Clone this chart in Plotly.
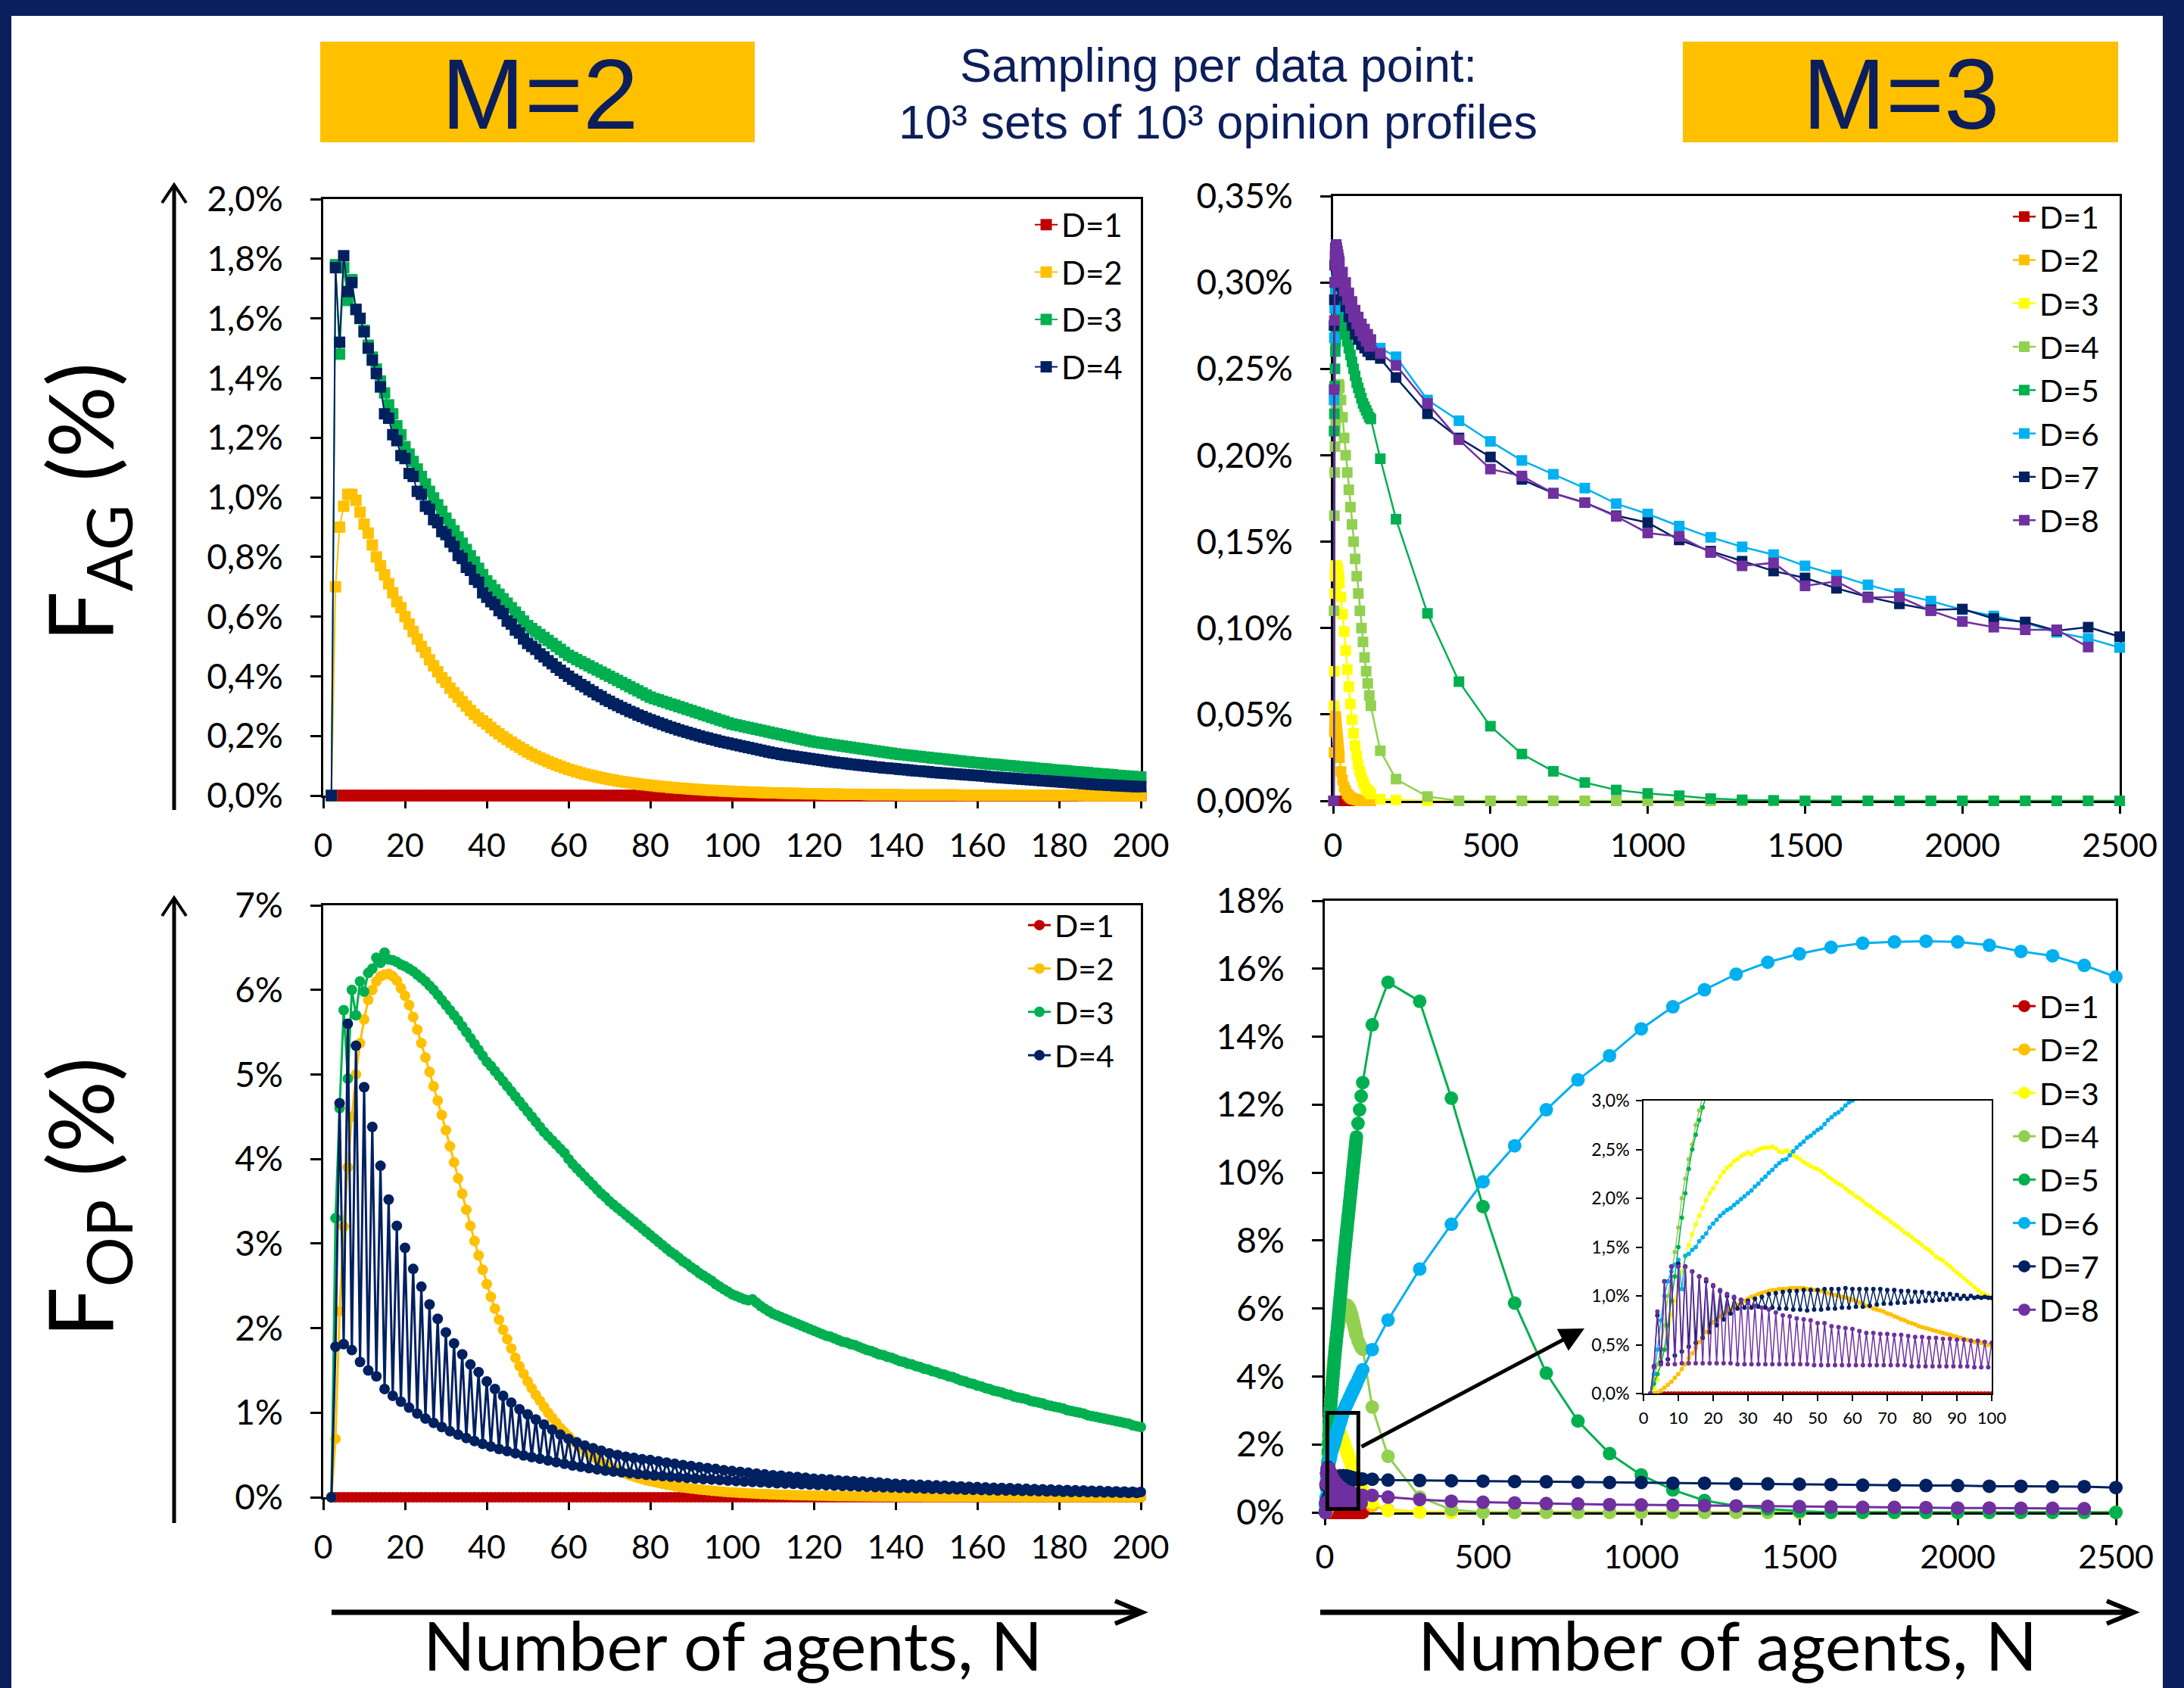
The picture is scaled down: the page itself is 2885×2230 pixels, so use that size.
import plotly.graph_objects as go

W, H = 2885, 2230
FONT = "Lato"
HEAD_FONT = "Liberation Sans"
HEAD_COL = "#0c1e5b"


def fx(p):
    return p / W


def fy(p):
    return 1 - p / H


# ---------------- x values (number of agents N) ----------------
N_M2 = list(range(2, 201))
N_AG3 = list(range(2, 21)) + list(range(25, 121, 5)) + [150, 200] + list(range(300, 2501, 100))
N_OP3 = list(range(2, 101)) + [105, 110, 115, 120] + [150, 200] + list(range(300, 2501, 100))

# ---------------- F_AG, M=2 (values in %) ----------------
FAG2_D1 = [0,0,0,0,0,0,0,0,0,0,0,0,0,0,0,0,0,0,0,0,
           0,0,0,0,0,0,0,0,0,0,0,0,0,0,0,0,0,0,0,0,
           0,0,0,0,0,0,0,0,0,0,0,0,0,0,0,0,0,0,0,0,
           0,0,0,0,0,0,0,0,0,0,0,0,0,0,0,0,0,0,0,0,
           0,0,0,0,0,0,0,0,0,0,0,0,0,0,0,0,0,0,0,0,
           0,0,0,0,0,0,0,0,0,0,0,0,0,0,0,0,0,0,0,0,
           0,0,0,0,0,0,0,0,0,0,0,0,0,0,0,0,0,0,0,0,
           0,0,0,0,0,0,0,0,0,0,0,0,0,0,0,0,0,0,0,0,
           0,0,0,0,0,0,0,0,0,0,0,0,0,0,0,0,0,0,0,0,
           0,0,0,0,0,0,0,0,0,0,0,0,0,0,0,0,0,0,0]
FAG2_D2 = [0, 0.70, 0.90, 0.97, 1.01, 1.01, 0.99, 0.95, 0.91,
           0.88, 0.84, 0.80, 0.77, 0.74, 0.71, 0.68, 0.65, 0.63, 0.60,
           0.575, 0.55, 0.525, 0.50, 0.48, 0.455, 0.435, 0.415, 0.395, 0.38,
           0.36, 0.345, 0.33, 0.315, 0.30, 0.285, 0.272, 0.26, 0.25, 0.24,
           0.228, 0.217, 0.207, 0.197, 0.188, 0.179, 0.170, 0.162, 0.154, 0.146,
           0.139, 0.132, 0.126, 0.120, 0.114, 0.108, 0.103, 0.098, 0.093, 0.088,
           0.084, 0.080, 0.076, 0.072, 0.069, 0.066, 0.063, 0.060, 0.057, 0.054,
           0.052, 0.049, 0.047, 0.045, 0.043, 0.041, 0.039, 0.037, 0.036, 0.034,
           0.033, 0.031, 0.030, 0.029, 0.027, 0.026, 0.025, 0.024, 0.023, 0.022,
           0.021, 0.020, 0.019, 0.018, 0.017, 0.017, 0.016, 0.015, 0.015, 0.014,
           0.013, 0.013, 0.012, 0.012, 0.011, 0.011, 0.010, 0.010, 0.009, 0.009,
           0.009, 0.008, 0.008, 0.008, 0.007, 0.007, 0.007, 0.006, 0.006, 0.006,
           0.006, 0.005, 0.005, 0.005, 0.005, 0.005, 0.004, 0.004, 0.004, 0.004,
           0.004, 0.004, 0.003, 0.003, 0.003, 0.003, 0.003, 0.003, 0.003, 0.003,
           0.002, 0.002, 0.002, 0.002, 0.002, 0.002, 0.002, 0.002, 0.002, 0.002,
           0.002, 0.002, 0.002, 0.002, 0.002, 0.001, 0.001, 0.001, 0.001, 0.001,
           0.001, 0.001, 0.001, 0.001, 0.001, 0.001, 0.001, 0.001, 0.001, 0.001,
           0.001, 0.001, 0.001, 0.001, 0.001, 0.001, 0.001, 0.001, 0.001, 0.001,
           0.001, 0.001, 0.001, 0.001, 0.001, 0, 0, 0, 0, 0,
           0, 0, 0, 0, 0, 0, 0, 0, 0, 0]
FAG2_D3 = [0, 1.78, 1.48, 1.77, 1.66, 1.73, 1.63, 1.60, 1.56,
           1.51, 1.47, 1.43, 1.39, 1.35, 1.31, 1.28, 1.24, 1.21, 1.17,
           1.145, 1.12, 1.095, 1.07, 1.045, 1.02, 0.998, 0.975, 0.953, 0.93,
           0.909, 0.888, 0.867, 0.846, 0.825, 0.804, 0.783, 0.762, 0.741, 0.72,
           0.705, 0.69, 0.675, 0.66, 0.645, 0.63, 0.615, 0.60, 0.585, 0.57,
           0.56, 0.55, 0.54, 0.53, 0.52, 0.51, 0.50, 0.49, 0.48, 0.47,
           0.463, 0.456, 0.449, 0.442, 0.435, 0.428, 0.421, 0.414, 0.407, 0.40,
           0.393, 0.386, 0.379, 0.372, 0.365, 0.358, 0.351, 0.344, 0.337, 0.33,
           0.325, 0.321, 0.316, 0.312, 0.307, 0.303, 0.298, 0.294, 0.289, 0.285,
           0.28, 0.276, 0.271, 0.267, 0.262, 0.258, 0.253, 0.249, 0.244, 0.24,
           0.237, 0.234, 0.231, 0.228, 0.225, 0.222, 0.219, 0.216, 0.213, 0.21,
           0.207, 0.204, 0.201, 0.198, 0.195, 0.192, 0.189, 0.186, 0.183, 0.18,
           0.178, 0.176, 0.174, 0.172, 0.17, 0.168, 0.166, 0.164, 0.162, 0.16,
           0.158, 0.156, 0.154, 0.152, 0.15, 0.148, 0.146, 0.144, 0.142, 0.14,
           0.138, 0.137, 0.135, 0.134, 0.132, 0.131, 0.129, 0.128, 0.126, 0.125,
           0.123, 0.122, 0.12, 0.119, 0.117, 0.116, 0.114, 0.113, 0.111, 0.11,
           0.109, 0.107, 0.106, 0.105, 0.104, 0.102, 0.101, 0.1, 0.099, 0.097,
           0.096, 0.095, 0.094, 0.092, 0.091, 0.09, 0.089, 0.087, 0.086, 0.085,
           0.084, 0.083, 0.081, 0.08, 0.079, 0.078, 0.077, 0.075, 0.074, 0.073,
           0.072, 0.071, 0.07, 0.068, 0.067, 0.066, 0.065, 0.064, 0.063, 0.062]
FAG2_D4 = [0, 1.77, 1.52, 1.81, 1.69, 1.72, 1.63, 1.60, 1.555,
           1.50, 1.46, 1.415, 1.37, 1.28, 1.265, 1.21, 1.19, 1.14, 1.13,
           1.08, 1.07, 1.02, 1.01, 0.97, 0.96, 0.925, 0.915, 0.885, 0.875,
           0.85, 0.835, 0.805, 0.795, 0.765, 0.755, 0.725, 0.715, 0.68, 0.665,
           0.65, 0.64, 0.62, 0.61, 0.585, 0.575, 0.555, 0.545, 0.525, 0.51,
           0.50, 0.49, 0.475, 0.465, 0.452, 0.442, 0.43, 0.42, 0.41, 0.40,
           0.39, 0.383, 0.372, 0.365, 0.355, 0.348, 0.338, 0.332, 0.322, 0.316,
           0.308, 0.302, 0.295, 0.289, 0.282, 0.277, 0.27, 0.265, 0.259, 0.254,
           0.249, 0.244, 0.239, 0.234, 0.229, 0.225, 0.22, 0.216, 0.212, 0.208,
           0.204, 0.2, 0.196, 0.193, 0.189, 0.186, 0.182, 0.179, 0.176, 0.173,
           0.17, 0.167, 0.164, 0.161, 0.158, 0.155, 0.152, 0.149, 0.146, 0.143,
           0.141, 0.138, 0.136, 0.134, 0.132, 0.13, 0.128, 0.126, 0.124, 0.122,
           0.12, 0.118, 0.116, 0.114, 0.112, 0.11, 0.109, 0.107, 0.105, 0.104,
           0.102, 0.101, 0.099, 0.098, 0.096, 0.095, 0.093, 0.092, 0.091, 0.09,
           0.088, 0.087, 0.086, 0.084, 0.083, 0.082, 0.081, 0.08, 0.078, 0.077,
           0.076, 0.075, 0.074, 0.073, 0.072, 0.071, 0.07, 0.069, 0.068, 0.067,
           0.066, 0.065, 0.063, 0.062, 0.061, 0.06, 0.059, 0.058, 0.057, 0.056,
           0.055, 0.054, 0.053, 0.052, 0.051, 0.05, 0.049, 0.048, 0.047, 0.046,
           0.045, 0.044, 0.043, 0.042, 0.041, 0.04, 0.039, 0.038, 0.037, 0.036,
           0.036, 0.035, 0.034, 0.033, 0.033, 0.032, 0.031, 0.031, 0.03, 0.03]

# ---------------- F_OP, M=2 (values in %) ----------------
FOP2_D1 = [0,0,0,0,0,0,0,0,0,0,0,0,0,0,0,0,0,0,0,0,
           0,0,0,0,0,0,0,0,0,0,0,0,0,0,0,0,0,0,0,0,
           0,0,0,0,0,0,0,0,0,0,0,0,0,0,0,0,0,0,0,0,
           0,0,0,0,0,0,0,0,0,0,0,0,0,0,0,0,0,0,0,0,
           0,0,0,0,0,0,0,0,0,0,0,0,0,0,0,0,0,0,0,0,
           0,0,0,0,0,0,0,0,0,0,0,0,0,0,0,0,0,0,0,0,
           0,0,0,0,0,0,0,0,0,0,0,0,0,0,0,0,0,0,0,0,
           0,0,0,0,0,0,0,0,0,0,0,0,0,0,0,0,0,0,0,0,
           0,0,0,0,0,0,0,0,0,0,0,0,0,0,0,0,0,0,0,0,
           0,0,0,0,0,0,0,0,0,0,0,0,0,0,0,0,0,0,0]
FOP2_D2 = [0, 0.69, 2.2, 3.2, 3.9, 4.5, 5.0, 5.37, 5.65,
           5.88, 6.0, 6.1, 6.16, 6.18, 6.19, 6.16, 6.11, 6.02, 5.93,
           5.82, 5.68, 5.53, 5.37, 5.2, 5.03, 4.86, 4.69, 4.52, 4.34,
           4.15, 3.96, 3.77, 3.59, 3.4, 3.21, 3.03, 2.86, 2.69, 2.52,
           2.37, 2.23, 2.1, 1.98, 1.87, 1.76, 1.65, 1.55, 1.46, 1.37,
           1.29, 1.21, 1.14, 1.07, 1.0, 0.94, 0.88, 0.82, 0.77, 0.72,
           0.67, 0.63, 0.59, 0.55, 0.51, 0.48, 0.45, 0.42, 0.39, 0.36,
           0.34, 0.32, 0.3, 0.28, 0.26, 0.245, 0.23, 0.215, 0.2, 0.19,
           0.18, 0.17, 0.16, 0.15, 0.14, 0.132, 0.124, 0.117, 0.11, 0.104,
           0.098, 0.092, 0.087, 0.082, 0.077, 0.073, 0.069, 0.065, 0.061, 0.058,
           0.055, 0.052, 0.049, 0.046, 0.044, 0.041, 0.039, 0.037, 0.035, 0.033,
           0.031, 0.03, 0.028, 0.027, 0.025, 0.024, 0.023, 0.022, 0.021, 0.02,
           0.019, 0.018, 0.017, 0.016, 0.015, 0.014, 0.014, 0.013, 0.012, 0.012,
           0.011, 0.011, 0.01, 0.01, 0.009, 0.009, 0.008, 0.008, 0.008, 0.007,
           0.007, 0.007, 0.006, 0.006, 0.006, 0.006, 0.005, 0.005, 0.005, 0.005,
           0.004, 0.004, 0.004, 0.004, 0.004, 0.004, 0.004, 0.004, 0.004, 0.004,
           0.003, 0.003, 0.003, 0.003, 0.003, 0.003, 0.003, 0.003, 0.003, 0.003,
           0.002, 0.002, 0.002, 0.002, 0.002, 0.002, 0.002, 0.002, 0.002, 0.002,
           0.002, 0.002, 0.002, 0.002, 0.002, 0.002, 0.002, 0.002, 0.002, 0.002,
           0.001, 0.001, 0.001, 0.001, 0.001, 0.001, 0.001, 0.001, 0.001, 0.001]
FOP2_D3 = [0, 3.3, 4.6, 5.76, 4.95, 6.0, 5.7, 6.1, 5.98,
           6.2, 6.25, 6.38, 6.32, 6.44, 6.36, 6.35, 6.33, 6.3, 6.28,
           6.25, 6.22, 6.18, 6.14, 6.1, 6.05, 6.0, 5.94, 5.88, 5.82,
           5.76, 5.7, 5.64, 5.57, 5.5, 5.43, 5.36, 5.29, 5.22, 5.15,
           5.1, 5.04, 4.98, 4.92, 4.86, 4.8, 4.74, 4.68, 4.62, 4.56,
           4.5, 4.44, 4.38, 4.32, 4.27, 4.22, 4.17, 4.12, 4.07, 4.0,
           3.94, 3.89, 3.84, 3.79, 3.74, 3.69, 3.64, 3.59, 3.55, 3.5,
           3.46, 3.42, 3.38, 3.34, 3.3, 3.26, 3.22, 3.18, 3.14, 3.1,
           3.06, 3.02, 2.98, 2.94, 2.9, 2.87, 2.83, 2.79, 2.76, 2.72,
           2.69, 2.65, 2.62, 2.59, 2.56, 2.52, 2.49, 2.46, 2.43, 2.4,
           2.38, 2.36, 2.34, 2.33, 2.34, 2.3, 2.26, 2.23, 2.2, 2.17,
           2.15, 2.13, 2.11, 2.09, 2.07, 2.05, 2.03, 2.01, 1.99, 1.97,
           1.95, 1.93, 1.91, 1.9, 1.88, 1.86, 1.84, 1.83, 1.81, 1.8,
           1.78, 1.76, 1.74, 1.73, 1.71, 1.69, 1.68, 1.66, 1.65, 1.63,
           1.61, 1.6, 1.58, 1.57, 1.55, 1.54, 1.52, 1.51, 1.49, 1.48,
           1.46, 1.45, 1.43, 1.42, 1.4, 1.38, 1.37, 1.35, 1.34, 1.32,
           1.31, 1.29, 1.28, 1.26, 1.25, 1.24, 1.22, 1.21, 1.19, 1.18,
           1.17, 1.16, 1.14, 1.13, 1.12, 1.11, 1.09, 1.08, 1.07, 1.06,
           1.05, 1.03, 1.02, 1.01, 1.0, 0.99, 0.97, 0.96, 0.95, 0.94,
           0.93, 0.92, 0.91, 0.9, 0.89, 0.88, 0.87, 0.85, 0.84, 0.83]
FOP2_D4 = [0, 1.78, 4.66, 1.81, 5.6, 1.74, 5.34, 1.6, 4.85,
           1.5, 4.38, 1.43, 3.92, 1.28, 3.52, 1.2, 3.21, 1.13, 2.95,
           1.06, 2.7, 0.99, 2.49, 0.93, 2.28, 0.88, 2.11, 0.83, 1.95,
           0.78, 1.82, 0.74, 1.69, 0.7, 1.57, 0.665, 1.48, 0.63, 1.37,
           0.6, 1.28, 0.57, 1.2, 0.545, 1.12, 0.52, 1.04, 0.495, 0.98,
           0.475, 0.92, 0.455, 0.86, 0.435, 0.8, 0.415, 0.74, 0.395, 0.69,
           0.375, 0.65, 0.36, 0.61, 0.345, 0.58, 0.33, 0.55, 0.315, 0.52,
           0.305, 0.5, 0.295, 0.48, 0.285, 0.465, 0.275, 0.45, 0.265, 0.44,
           0.258, 0.425, 0.25, 0.41, 0.243, 0.395, 0.236, 0.38, 0.229, 0.37,
           0.222, 0.355, 0.215, 0.345, 0.209, 0.335, 0.203, 0.32, 0.197, 0.31,
           0.191, 0.3, 0.186, 0.29, 0.181, 0.28, 0.176, 0.27, 0.171, 0.26,
           0.166, 0.255, 0.162, 0.245, 0.158, 0.24, 0.154, 0.23, 0.15, 0.22,
           0.146, 0.215, 0.142, 0.21, 0.138, 0.2, 0.134, 0.195, 0.131, 0.19,
           0.127, 0.185, 0.124, 0.18, 0.121, 0.175, 0.118, 0.165, 0.115, 0.16,
           0.112, 0.155, 0.109, 0.15, 0.106, 0.147, 0.103, 0.143, 0.1, 0.14,
           0.098, 0.136, 0.095, 0.132, 0.093, 0.128, 0.09, 0.124, 0.088, 0.12,
           0.086, 0.117, 0.083, 0.113, 0.081, 0.11, 0.079, 0.107, 0.077, 0.104,
           0.075, 0.1, 0.073, 0.097, 0.071, 0.094, 0.069, 0.091, 0.067, 0.088,
           0.065, 0.085, 0.063, 0.082, 0.062, 0.08, 0.06, 0.077, 0.058, 0.075,
           0.057, 0.072, 0.055, 0.07, 0.054, 0.067, 0.052, 0.065, 0.051, 0.062]

# ---------------- F_AG, M=3 (values in %), x = N_AG3 ----------------
FAG3_D1 = [0,0,0,0,0,0,0,0,0,0,0,0,0,0,0,0,0,0,0,
           0,0,0,0,0,0,0,0,0,0,0,0,0,0,0,0,0,0,0,0]
FAG3_D2 = [0, 0.028, 0.04, 0.046, 0.048, 0.049, 0.048, 0.047, 0.045, 0.043,
           0.041, 0.039, 0.037, 0.035, 0.033, 0.031, 0.029, 0.027, 0.025,
           0.017, 0.012, 0.008, 0.006, 0.004, 0.003, 0.002, 0.0015, 0.001, 0.001,
           0.0005, 0.0005, 0, 0, 0, 0, 0, 0, 0, 0]
FAG3_D3 = [0, 0.055, 0.075, 0.12, 0.13, 0.134, 0.136, 0.136, 0.136, 0.136,
           0.135, 0.135, 0.134, 0.133, 0.132, 0.131, 0.13, 0.128, 0.126,
           0.118, 0.108, 0.098, 0.087, 0.076, 0.066, 0.056, 0.047, 0.039, 0.032,
           0.026, 0.021, 0.017, 0.014, 0.011, 0.009, 0.007, 0.006, 0.005, 0.004,
           0.001, 0.0005, 0, 0, 0, 0, 0, 0, 0, 0, 0, 0,
           0, 0, 0, 0, 0, 0, 0, 0, 0, 0, 0, 0, 0]
FAG3_D4 = [0, 0.11, 0.165, 0.19, 0.205, 0.215, 0.22, 0.225, 0.23, 0.232,
           0.235, 0.237, 0.238, 0.24, 0.24, 0.241, 0.241, 0.24, 0.239,
           0.232, 0.222, 0.21, 0.2, 0.19, 0.18, 0.17, 0.16, 0.15, 0.14,
           0.13, 0.12, 0.11, 0.1, 0.092, 0.083, 0.075, 0.068, 0.061, 0.055,
           0.029, 0.0126, 0.0025, 0, 0, 0, 0, 0, 0, 0, 0, 0,
           0, 0, 0, 0, 0, 0, 0, 0, 0, 0, 0, 0, 0]
FAG3_D5 = [0, 0.214, 0.224, 0.24, 0.25, 0.26, 0.265, 0.27, 0.275, 0.278,
           0.28, 0.282, 0.284, 0.285, 0.285, 0.285, 0.284, 0.284, 0.283,
           0.28, 0.277, 0.274, 0.27, 0.266, 0.262, 0.258, 0.254, 0.25, 0.246,
           0.242, 0.239, 0.236, 0.233, 0.23, 0.228, 0.226, 0.224, 0.222, 0.221,
           0.198, 0.163, 0.1085, 0.069, 0.0432, 0.0271, 0.0171, 0.0106, 0.0063, 0.0043,
           0.003, 0.0013, 0.0006, 0.0003, 0, 0, 0, 0, 0, 0, 0, 0, 0, 0, 0]
FAG3_D6 = [0, 0.232, 0.268, 0.285, 0.29, 0.295, 0.298, 0.3, 0.302, 0.303,
           0.303, 0.303, 0.302, 0.301, 0.3, 0.299, 0.298, 0.297, 0.296,
           0.293, 0.29, 0.288, 0.286, 0.284, 0.282, 0.28, 0.278, 0.276, 0.275,
           0.273, 0.272, 0.27, 0.269, 0.268, 0.267, 0.266, 0.265, 0.264, 0.263,
           0.262, 0.257, 0.232, 0.22, 0.208, 0.197, 0.189, 0.181, 0.172, 0.166,
           0.159, 0.1525, 0.147, 0.1425, 0.136, 0.1307, 0.125, 0.12, 0.1156, 0.1106,
           0.107, 0.103, 0.0975, 0.094, 0.0887]
FAG3_D7 = [0, 0.275, 0.29, 0.31, 0.3, 0.32, 0.31, 0.318, 0.31, 0.315,
           0.307, 0.312, 0.305, 0.31, 0.303, 0.307, 0.3, 0.305, 0.298,
           0.3, 0.292, 0.293, 0.286, 0.287, 0.28, 0.281, 0.275, 0.276, 0.27,
           0.272, 0.267, 0.268, 0.264, 0.265, 0.262, 0.263, 0.26, 0.261, 0.258,
           0.256, 0.245, 0.224, 0.21, 0.199, 0.186, 0.178, 0.1726, 0.165, 0.161,
           0.151, 0.1445, 0.1387, 0.133, 0.129, 0.123, 0.118, 0.114, 0.1105, 0.111,
           0.1055, 0.1035, 0.0985, 0.1005, 0.095]
FAG3_D8 = [0, 0.238, 0.278, 0.3, 0.315, 0.31, 0.32, 0.31, 0.322, 0.31,
           0.32, 0.308, 0.318, 0.306, 0.316, 0.305, 0.314, 0.303, 0.312,
           0.3, 0.306, 0.295, 0.3, 0.29, 0.294, 0.285, 0.289, 0.28, 0.284,
           0.276, 0.28, 0.272, 0.276, 0.269, 0.273, 0.266, 0.27, 0.263, 0.267,
           0.259, 0.252, 0.23, 0.209, 0.192, 0.188, 0.178, 0.1726, 0.1646, 0.155,
           0.153, 0.1437, 0.136, 0.1377, 0.1244, 0.127, 0.1176, 0.118, 0.11, 0.1038,
           0.1005, 0.099, 0.099, 0.089]

# ---------------- F_OP, M=3 (values in %), x = N_OP3 ----------------
FOP3_D1 = [0,0,0,0,0,0,0,0,0,0,0,0,0,0,0,0,0,0,0,0,
           0,0,0,0,0,0,0,0,0,0,0,0,0,0,0,0,0,0,0,0,
           0,0,0,0,0,0,0,0,0,0,0,0,0,0,0,0,0,0,0,0,
           0,0,0,0,0,0,0,0,0,0,0,0,0,0,0,0,0,0,0,0,
           0,0,0,0,0,0,0,0,0,0,0,0,0,0,0,0,0,0,0,0,
           0,0,0]
FOP3_D2 = [0, 0, 0.01, 0.03, 0.06, 0.09, 0.12, 0.16, 0.2,
           0.25, 0.3, 0.36, 0.41, 0.47, 0.53, 0.58, 0.63, 0.68, 0.73,
           0.76, 0.79, 0.82, 0.84, 0.86, 0.89, 0.91, 0.93, 0.95, 0.97,
           0.99, 1.0, 1.02, 1.03, 1.04, 1.05, 1.06, 1.06, 1.07, 1.07,
           1.07, 1.08, 1.08, 1.08, 1.08, 1.08, 1.07, 1.07, 1.06, 1.06,
           1.05, 1.04, 1.03, 1.02, 1.01, 1.0, 0.99, 0.98, 0.97, 0.96,
           0.95, 0.93, 0.92, 0.9, 0.89, 0.87, 0.86, 0.85, 0.84, 0.82,
           0.81, 0.79, 0.78, 0.76, 0.75, 0.73, 0.72, 0.71, 0.69, 0.68,
           0.67, 0.66, 0.65, 0.64, 0.63, 0.62, 0.61, 0.6, 0.59, 0.58,
           0.57, 0.56, 0.55, 0.54, 0.53, 0.52, 0.52, 0.51, 0.5, 0.49,
           0.45, 0.41, 0.37, 0.34,
           0.2, 0.07, 0.01, 0, 0, 0, 0, 0, 0, 0, 0, 0,
           0, 0, 0, 0, 0, 0, 0, 0, 0, 0, 0, 0, 0]
FOP3_D3 = [0, 0.05, 0.15, 0.3, 0.45, 0.6, 0.8, 0.95, 1.1,
           1.25, 1.4, 1.52, 1.63, 1.73, 1.82, 1.9, 1.98, 2.05, 2.1,
           2.16, 2.22, 2.27, 2.31, 2.34, 2.38, 2.4, 2.43, 2.45, 2.47,
           2.45, 2.48, 2.5, 2.51, 2.52, 2.52, 2.53, 2.51, 2.48, 2.47,
           2.49, 2.47, 2.44, 2.42, 2.4, 2.37, 2.35, 2.33, 2.31, 2.3,
           2.28, 2.25, 2.22, 2.2, 2.17, 2.15, 2.13, 2.1, 2.07, 2.05,
           2.02, 2.0, 1.97, 1.94, 1.92, 1.89, 1.86, 1.84, 1.81, 1.79,
           1.76, 1.73, 1.71, 1.68, 1.65, 1.63, 1.6, 1.57, 1.55, 1.52,
           1.49, 1.47, 1.44, 1.4, 1.38, 1.36, 1.33, 1.3, 1.27, 1.24,
           1.21, 1.18, 1.15, 1.12, 1.09, 1.06, 1.03, 1.02, 1.0, 0.97,
           0.88, 0.8, 0.72, 0.65,
           0.3, 0.05, 0.01, 0, 0, 0, 0, 0, 0, 0, 0, 0,
           0, 0, 0, 0, 0, 0, 0, 0, 0, 0, 0, 0, 0]
FOP3_D4 = [0, 0.15, 0.3, 0.45, 0.7, 1.0, 1.2, 1.45, 1.7,
           2.0, 2.2, 2.4, 2.55, 2.75, 2.9, 3.05, 3.18, 3.31, 3.44,
           3.57, 3.7, 3.83, 3.96, 4.08, 4.19, 4.3, 4.4, 4.5, 4.6,
           4.68, 4.76, 4.84, 4.92, 5.0, 5.07, 5.14, 5.21, 5.28, 5.35,
           5.4, 5.45, 5.5, 5.55, 5.6, 5.64, 5.68, 5.72, 5.76, 5.8,
           5.83, 5.86, 5.89, 5.92, 5.95, 5.97, 5.99, 6.01, 6.03, 6.05,
           6.06, 6.07, 6.08, 6.09, 6.1, 6.1, 6.1, 6.1, 6.1, 6.1,
           6.09, 6.08, 6.07, 6.06, 6.05, 6.03, 6.01, 5.99, 5.97, 5.95,
           5.92, 5.89, 5.86, 5.83, 5.8, 5.76, 5.72, 5.68, 5.64, 5.6,
           5.56, 5.52, 5.48, 5.44, 5.4, 5.36, 5.32, 5.28, 5.24, 5.2,
           5.05, 4.95, 4.85, 4.8,
           3.1, 1.65, 0.45, 0.08, 0, 0, 0, 0, 0, 0, 0, 0,
           0, 0, 0, 0, 0, 0, 0, 0, 0, 0, 0, 0, 0]
FOP3_D5 = [0, 0.1, 0.2, 0.3, 0.45, 0.7, 0.95, 1.2, 1.5,
           1.8, 2.05, 2.3, 2.5, 2.65, 2.8, 2.93, 3.05, 3.17, 3.29,
           3.41, 3.53, 3.65, 3.77, 3.89, 4.0, 4.11, 4.22, 4.33, 4.44,
           4.55, 4.65, 4.75, 4.85, 4.95, 5.05, 5.15, 5.25, 5.35, 5.45,
           5.55, 5.65, 5.75, 5.85, 5.95, 6.05, 6.15, 6.25, 6.35, 6.45,
           6.55, 6.65, 6.75, 6.85, 6.95, 7.05, 7.15, 7.25, 7.35, 7.45,
           7.54, 7.63, 7.72, 7.81, 7.9, 7.99, 8.08, 8.17, 8.26, 8.35,
           8.44, 8.53, 8.62, 8.71, 8.8, 8.89, 8.98, 9.07, 9.16, 9.25,
           9.34, 9.43, 9.52, 9.61, 9.7, 9.79, 9.88, 9.97, 10.06, 10.15,
           10.24, 10.33, 10.42, 10.51, 10.6, 10.69, 10.78, 10.87, 10.96, 11.05,
           11.45, 11.85, 12.25, 12.65,
           14.35, 15.6, 15.04, 12.19, 9.0, 6.16, 4.1, 2.69, 1.73, 1.1, 0.66, 0.35,
           0.19, 0.1, 0.04, 0, 0, 0, 0, 0, 0, 0, 0, 0, 0]
FOP3_D6 = [0, 0.2, 0.45, 0.75, 1.0, 1.15, 1.25, 1.32, 1.37,
           1.07, 1.41, 1.43, 1.47, 1.5, 1.56, 1.6, 1.64, 1.7, 1.74,
           1.78, 1.82, 1.85, 1.88, 1.9, 1.93, 1.96, 1.99, 2.02, 2.05,
           2.08, 2.12, 2.15, 2.19, 2.22, 2.26, 2.29, 2.33, 2.36, 2.39,
           2.4, 2.44, 2.48, 2.52, 2.55, 2.58, 2.62, 2.64, 2.67, 2.7,
           2.72, 2.76, 2.8, 2.83, 2.86, 2.88, 2.91, 2.95, 2.98, 3.0,
           3.02, 3.04, 3.06, 3.08, 3.1, 3.12, 3.14, 3.16, 3.18, 3.2,
           3.22, 3.24, 3.26, 3.28, 3.3, 3.32, 3.34, 3.36, 3.38, 3.4,
           3.42, 3.44, 3.46, 3.48, 3.5, 3.52, 3.54, 3.56, 3.58, 3.6,
           3.62, 3.64, 3.66, 3.68, 3.7, 3.72, 3.74, 3.76, 3.78, 3.8,
           3.9, 4.0, 4.1, 4.2,
           4.79, 5.66, 7.16, 8.48, 9.73, 10.79, 11.85, 12.73, 13.44, 14.23, 14.88, 15.38,
           15.84, 16.19, 16.44, 16.63, 16.75, 16.79, 16.81, 16.79, 16.69, 16.51, 16.38, 16.1, 15.76]
FOP3_D7 = [0, 0.28, 0.8, 0.32, 1.15, 0.35, 1.3, 0.39, 1.33,
           0.43, 1.3, 0.48, 1.25, 0.52, 1.2, 0.57, 1.15, 0.63, 1.1,
           0.7, 1.05, 0.76, 1.0, 0.82, 0.98, 0.87, 0.96, 0.88, 0.95,
           0.88, 0.97, 0.89, 0.99, 0.88, 1.02, 0.88, 1.03, 0.87, 1.04,
           0.87, 1.05, 0.86, 1.05, 0.86, 1.06, 0.85, 1.06, 0.86, 1.06,
           0.86, 1.07, 0.87, 1.07, 0.87, 1.07, 0.88, 1.08, 0.88, 1.07,
           0.89, 1.07, 0.89, 1.07, 0.9, 1.07, 0.91, 1.07, 0.92, 1.06,
           0.92, 1.06, 0.93, 1.05, 0.93, 1.05, 0.94, 1.04, 0.94, 1.04,
           0.95, 1.03, 0.95, 1.03, 0.96, 1.02, 0.96, 1.02, 0.97, 1.01,
           0.97, 1.0, 0.97, 1.0, 0.98, 0.99, 0.98, 0.99, 0.98, 0.98,
           0.98, 0.98, 0.98, 0.98,
           0.975, 0.95, 0.94, 0.93, 0.92, 0.91, 0.9, 0.89, 0.88, 0.88, 0.86, 0.86,
           0.84, 0.84, 0.83, 0.82, 0.8, 0.8, 0.79, 0.79, 0.77, 0.77, 0.76, 0.76, 0.73]
FOP3_D8 = [0, 0.27, 0.84, 0.3, 1.15, 0.3, 1.3, 0.3, 1.3,
           0.31, 1.3, 0.31, 1.25, 0.31, 1.2, 0.31, 1.17, 0.31, 1.11,
           0.31, 1.06, 0.31, 1.02, 0.31, 0.99, 0.3, 0.96, 0.3, 0.93,
           0.3, 0.9, 0.3, 0.88, 0.3, 0.86, 0.3, 0.83, 0.3, 0.8,
           0.3, 0.79, 0.3, 0.77, 0.3, 0.76, 0.3, 0.75, 0.29, 0.72,
           0.29, 0.72, 0.29, 0.69, 0.29, 0.68, 0.29, 0.67, 0.29, 0.66,
           0.29, 0.64, 0.29, 0.62, 0.29, 0.62, 0.29, 0.61, 0.29, 0.61,
           0.29, 0.6, 0.29, 0.6, 0.29, 0.59, 0.28, 0.58, 0.28, 0.58,
           0.28, 0.57, 0.28, 0.57, 0.28, 0.56, 0.28, 0.56, 0.28, 0.55,
           0.28, 0.55, 0.28, 0.54, 0.27, 0.54, 0.27, 0.53, 0.27, 0.52,
           0.28, 0.5, 0.28, 0.5,
           0.5, 0.45, 0.38, 0.33, 0.3, 0.28, 0.26, 0.25, 0.23, 0.22, 0.21, 0.2,
           0.19, 0.18, 0.17, 0.16, 0.15, 0.15, 0.14, 0.13, 0.13, 0.12, 0.12, 0.11]

# ---------------- colours ----------------
RED, ORANGE, GREEN, NAVY = "#C00000", "#FFC000", "#00B050", "#002060"
YELLOW, LGREEN, CYAN, PURPLE = "#FFFF00", "#92D050", "#00B0F0", "#7030A0"

fig = go.Figure()


def add(xs, ys, name, color, symbol, size, lw, xa, ya, legend=None, clip=False):
    fig.add_trace(go.Scatter(
        x=xs[:len(ys)], y=ys, name=name, mode="lines+markers",
        line=dict(color=color, width=lw),
        marker=dict(symbol=symbol, size=size, color=color, line=dict(width=0)),
        xaxis=xa, yaxis=ya, cliponaxis=clip,
        showlegend=legend is not None,
        legend=legend if legend else "legend",
        legendgroup=(legend or "inset") + name,
        hoverinfo="skip"))


m2_ag = [("D=1", FAG2_D1, RED), ("D=2", FAG2_D2, ORANGE), ("D=3", FAG2_D3, GREEN), ("D=4", FAG2_D4, NAVY)]
m2_op = [("D=1", FOP2_D1, RED), ("D=2", FOP2_D2, ORANGE), ("D=3", FOP2_D3, GREEN), ("D=4", FOP2_D4, NAVY)]
m3_ag = [("D=1", FAG3_D1, RED), ("D=2", FAG3_D2, ORANGE), ("D=3", FAG3_D3, YELLOW), ("D=4", FAG3_D4, LGREEN),
         ("D=5", FAG3_D5, GREEN), ("D=6", FAG3_D6, CYAN), ("D=7", FAG3_D7, NAVY), ("D=8", FAG3_D8, PURPLE)]
m3_op = [("D=1", FOP3_D1, RED), ("D=2", FOP3_D2, ORANGE), ("D=3", FOP3_D3, YELLOW), ("D=4", FOP3_D4, LGREEN),
         ("D=5", FOP3_D5, GREEN), ("D=6", FOP3_D6, CYAN), ("D=7", FOP3_D7, NAVY), ("D=8", FOP3_D8, PURPLE)]

for nm, v, c in m2_ag:
    add(N_M2, v, nm, c, "square", 15, 2, "x", "y", "legend")
for nm, v, c in m3_ag:
    add(N_AG3, v, nm, c, "square", 14, 2.5, "x2", "y2", "legend2")
for nm, v, c in m2_op:
    add(N_M2, v, nm, c, "circle", 14, 3, "x3", "y3", "legend3")
for nm, v, c in m3_op:
    add(N_OP3, v, nm, c, "circle", 18, 3, "x4", "y4", "legend4")
for nm, v, c in m3_op:
    add(N_OP3, v, nm, c, "circle", 6, 1.5, "x5", "y5", None, clip=True)


def axis(dom, rng, dtick, fmt, suffix, anchor, size=43, tl=14, lw=3, standoff=0):
    return dict(domain=dom, range=rng, dtick=dtick, tick0=0, tickformat=fmt, ticksuffix=suffix,
                showline=True, linecolor="black", linewidth=lw, mirror=True,
                ticks="outside", ticklen=tl, tickwidth=lw, tickcolor="black",
                showgrid=False, zeroline=False, anchor=anchor, layer="below traces",
                automargin=False,
                tickfont=dict(family=FONT, size=size, color="black"),
                ticklabelstandoff=standoff, fixedrange=True)


def leg(x, y, gap, size):
    return dict(x=fx(x), y=fy(y), xanchor="left", yanchor="top", bgcolor="rgba(0,0,0,0)",
                borderwidth=0, font=dict(family=FONT, size=size, color="black"),
                tracegroupgap=gap, itemclick=False, itemdoubleclick=False)


ann = []


def text(x, y, s, size, color="black", family=FONT, angle=0):
    ann.append(dict(x=fx(x), y=fy(y), xref="paper", yref="paper", text=s, showarrow=False,
                    font=dict(family=family, size=size, color=color), textangle=angle,
                    xanchor="center", yanchor="middle"))


text(713, 124, "M=2", 132, HEAD_COL, HEAD_FONT)
text(2511, 124, "M=3", 132, HEAD_COL, HEAD_FONT)
text(1609, 86, "Sampling per data point:", 63, HEAD_COL, HEAD_FONT)
text(1609, 161, "10³ sets of 10³ opinion profiles", 63, HEAD_COL, HEAD_FONT)
text(113, 663, "F<sub>AG</sub> (%)", 118, angle=-90)
text(113, 1582, "F<sub>OP</sub> (%)", 118, angle=-90)
text(968, 2172, "Number of agents, N", 90)
text(2282, 2172, "Number of agents, N", 90)

# arrow from zoom box to inset
ann.append(dict(x=fx(2093), y=fy(1755), xref="paper", yref="paper", text="", showarrow=True,
                ax=-296, ay=157, axref="pixel", ayref="pixel", arrowhead=2, arrowsize=1.3,
                arrowwidth=5, arrowcolor="black"))

shapes = []
shapes.append(dict(type="rect", xref="paper", yref="paper", x0=fx(15), x1=fx(2857), y0=fy(2245), y1=fy(21),
                   fillcolor="white", line=dict(width=0), layer="below"))
for x0, x1 in [(423, 997), (2223, 2798)]:
    shapes.append(dict(type="rect", xref="paper", yref="paper", x0=fx(x0), x1=fx(x1), y0=fy(188), y1=fy(55),
                       fillcolor="#FFC000", line=dict(width=0), layer="below"))


def pline(x0, y0, x1, y1, w):
    shapes.append(dict(type="line", xref="paper", yref="paper", x0=fx(x0), y0=fy(y0), x1=fx(x1), y1=fy(y1),
                       line=dict(color="black", width=w)))


def ppath(pts, w):
    d = "M " + " L ".join(f"{fx(a):.5f},{fy(b):.5f}" for a, b in pts)
    shapes.append(dict(type="path", xref="paper", yref="paper", path=d, line=dict(color="black", width=w)))


pline(230, 1070, 230, 246, 5)
ppath([(214, 268), (230, 244), (246, 268)], 4)
pline(230, 2012, 230, 1188, 5)
ppath([(214, 1210), (230, 1186), (246, 1210)], 4)
pline(438, 2130, 1505, 2130, 7)
ppath([(1473, 2115), (1509, 2130), (1473, 2145)], 6)
pline(1744, 2130, 2815, 2130, 7)
ppath([(2783, 2115), (2819, 2130), (2783, 2145)], 6)

# zoom box on the M=3 F_OP panel
shapes.append(dict(type="rect", xref="x4", yref="y4", x0=8, x1=106, y0=0.1, y1=2.93,
                   line=dict(color="black", width=5)))

YS = 46  # y tick label size
fig.update_layout(
    width=W, height=H, autosize=False,
    margin=dict(l=0, r=0, t=0, b=0, pad=0, autoexpand=False),
    paper_bgcolor="#0b1f5f", plot_bgcolor="white", separators=",.",
    font=dict(family=FONT, color="black"),
    xaxis=axis([fx(427), fx(1507)], [0, 200], 20, "d", "", "y", standoff=12),
    yaxis=axis([fy(1051), fy(263)], [0, 2.0], 0.2, ".1f", "%", "x", size=YS, standoff=27),
    xaxis2=axis([fx(1761), fx(2800)], [0, 2500], 500, "d", "", "y2", standoff=5),
    yaxis2=axis([fy(1058), fy(259)], [0, 0.35], 0.05, ".2f", "%", "x2", size=YS, standoff=27),
    xaxis3=axis([fx(427), fx(1507)], [0, 200], 20, "d", "", "y3", standoff=12),
    yaxis3=axis([fy(1978), fy(1196)], [0, 7], 1, ".0f", "%", "x3", size=YS, standoff=27),
    xaxis4=axis([fx(1750), fx(2795)], [0, 2500], 500, "d", "", "y4", standoff=5),
    yaxis4=axis([fy(1998), fy(1190)], [0, 18], 2, ".0f", "%", "x4", size=YS, standoff=27),
    xaxis5=axis([fx(2171), fx(2631)], [0, 100], 10, "d", "", "y5", size=22, tl=8, lw=1.5, standoff=4),
    yaxis5=axis([fy(1841), fy(1454)], [0, 3.0], 0.5, ".1f", "%", "x5", size=23, tl=8, lw=1.5, standoff=4),
    legend=leg(1362, 263, 5, 42),
    legend2=leg(2654, 253, 1, 41),
    legend3=leg(1353, 1189, 1, 41),
    legend4=leg(2654, 1296, 1, 41),
    annotations=ann,
    shapes=shapes,
)

fig.write_html("out.html", config={"displayModeBar": False},
               post_script="document.body.style.margin='0';")
